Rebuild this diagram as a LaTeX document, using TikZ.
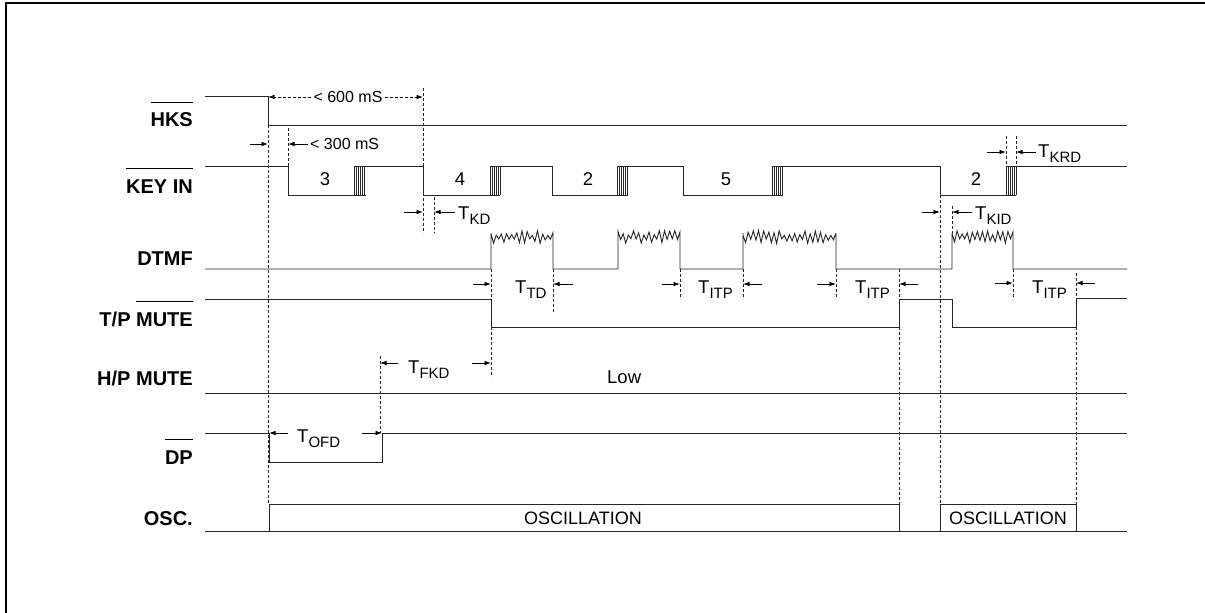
\documentclass[tikz,border=0pt]{standalone}
\usepackage{fontspec}
\setmainfont{Liberation Sans}
\usetikzlibrary{arrows.meta}

\newcommand{\olin}[1]{\setbox0=\hbox{#1}\rlap{\smash{\raisebox{\dimexpr\ht0+10pt\relax}{\rule{\wd0}{0.9pt}}}}\box0}
\newcommand{\tm}[1]{T\raisebox{-5pt}{\fontsize{15}{15}\selectfont #1}}
\newcommand{\keyhatch}[1]{\foreach \i in {0,2,...,10} \draw[sig, line width=0.5pt] (#1+\i,166) -- (#1+\i,195);}
\newcommand{\burst}[3]{-- plot[domain=0:#3, samples=#3+1] ({#1+\x*(#2-#1)/#3},{237+(mod(\x,2)*2-1)*(1.5+5*rnd)})}

\tikzset{
	sig/.style={draw=black!85, line width=0.9pt},
	guide/.style={draw=black!85, line width=0.6pt, dash pattern=on 3pt off 2pt},
	dim/.style={draw=black, line width=0.8pt, -{Latex[length=6.5pt,width=4.5pt]}},
	dimdash/.style={dim, dash pattern=on 3pt off 2pt},
	lab/.style={font=\fontsize{20}{24}\selectfont\bfseries, anchor=base east, inner sep=0pt},
	num/.style={font=\fontsize{18.5}{20}\selectfont, anchor=base, inner sep=0pt},
	note/.style={font=\fontsize{16}{18}\selectfont, inner sep=2pt},
	tlab/.style={font=\fontsize{18.5}{20}\selectfont, anchor=base west, inner sep=0pt},
	osc/.style={font=\fontsize{18}{20}\selectfont, anchor=base, inner sep=0pt}
}

\begin{document}
\begin{tikzpicture}[x=1pt, y=-1pt]
	\useasboundingbox (0,0) rectangle (1205,613);
	\pgfmathsetseed{17}
	\draw[line width=2pt] (6,613) -- (6,3) -- (1205,3);

	\node[lab] (hks) at (193,126.5) {\olin{HKS}};
	\node[lab] (keyin) at (193,193) {\olin{KEY IN}};
	\node[lab] (dtmf) at (193,265) {DTMF};
	\node[lab] (tpmute) at (193,326) {T/P \olin{MUTE}};
	\node[lab] (hpmute) at (193,385) {H/P MUTE};
	\node[lab] (dp) at (193,464) {\olin{DP}};
	\node[lab] (osc) at (193,525) {OSC.};

	\draw[sig] (205,96) -- (268,96) -- (268,125) -- (1127,125);

	\draw[sig] (205,166) -- (288,166) -- (288,195) -- (366,195);
	\draw[sig] (354,195) -- (354,166) -- (423,166) -- (423,195) -- (500,195);
	\draw[sig] (490,195) -- (490,166) -- (552,166) -- (552,195) -- (628,195);
	\draw[sig] (617,195) -- (617,166) -- (683,166) -- (683,195) -- (783,195);
	\draw[sig] (772,195) -- (772,166) -- (940,166) -- (940,195) -- (1016,195);
	\draw[sig] (1006,195) -- (1006,166) -- (1127,166);
	\keyhatch{354} \keyhatch{490} \keyhatch{617} \keyhatch{772} \keyhatch{1006}
	\node[num] (k3) at (325,185) {3};
	\node[num] (k4) at (460,185) {4};
	\node[num] (k2) at (588,185) {2};
	\node[num] (k5) at (726,185) {5};
	\node[num] (k2b) at (976,185) {2};

	\draw[sig] (205,269) -- (491,269) -- (491,233)
		\burst{491}{553}{24} -- (553,233) -- (553,269)
		-- (618,269) -- (618,233)
		\burst{618}{680}{24} -- (680,233) -- (680,269)
		-- (743,269) -- (743,233)
		\burst{743}{836}{36} -- (836,233) -- (836,269)
		-- (952,269) -- (952,233)
		\burst{952}{1013}{24} -- (1013,233) -- (1013,269)
		-- (1127,269);

	\draw[sig] (205,299) -- (491,299) -- (491,327) -- (899,327) -- (899,299) -- (952,299) -- (952,327) -- (1076,327) -- (1076,298) -- (1127,298);
	\draw[sig] (205,393) -- (1127,393);
	\node[tlab] (low) at (607,383) {Low};
	\draw[sig] (205,433) -- (269,433) -- (269,462) -- (382,462) -- (382,433) -- (1127,433);

	\draw[sig] (205,531) -- (1127,531);
	\draw[sig] (269,531) -- (269,504) -- (899,504) -- (899,531);
	\draw[sig] (940,531) -- (940,504) -- (1076,504) -- (1076,531);
	\node[osc] (osc1) at (583,524) {OSCILLATION};
	\node[osc] (osc2) at (1008,524) {OSCILLATION};

	\draw[guide] (268,125) -- (268,504);
	\draw[guide] (423,88) -- (423,233);
	\draw[guide] (434,197) -- (434,233);
	\draw[guide] (288,128) -- (288,166);
	\draw[guide] (491,269) -- (491,299);
	\draw[guide] (491,327) -- (491,377);
	\draw[guide] (553,269) -- (553,313);
	\draw[guide] (680,269) -- (680,299);
	\draw[guide] (743,269) -- (743,299);
	\draw[guide] (836,269) -- (836,299);
	\draw[guide] (899,269) -- (899,299);
	\draw[guide] (899,327) -- (899,504);
	\draw[guide] (940,195) -- (940,504);
	\draw[guide] (952,206) -- (952,236);
	\draw[guide] (1013,269) -- (1013,299);
	\draw[guide] (1076,273) -- (1076,298);
	\draw[guide] (1076,327) -- (1076,504);
	\draw[guide] (1006,136) -- (1006,166);
	\draw[guide] (1016,136) -- (1016,166);
	\draw[guide] (380,356) -- (380,433);

	\node[note] (t600) at (348,97) {< 600 mS};
	\draw[dimdash] (t600.west) -- (268,97);
	\draw[dimdash] (t600.east) -- (423,97);
	\node[note, anchor=west] (t300) at (308,144) {< 300 mS};
	\draw[dim] (t300.west) -- (288,144);
	\draw[dim] (250,144) -- (268,144);

	\draw[dim] (404,212) -- (423,212);
	\draw[dim] (455,212) -- (434,212);
	\node[tlab] (tkd) at (458,219) {\tm{KD}};
	\draw[dim] (922,212) -- (940,212);
	\draw[dim] (972,212) -- (952,212);
	\node[tlab] (tkid) at (975,219) {\tm{KID}};
	\draw[dim] (987,152) -- (1006,152);
	\draw[dim] (1036,152) -- (1016,152);
	\node[tlab] (tkrd) at (1038,157) {\tm{KRD}};

	\draw[dim] (473,284) -- (491,284);
	\draw[dim] (573,284) -- (553,284);
	\node[tlab] (ttd) at (515,293) {\tm{TD}};
	\draw[dim] (662,284) -- (680,284);
	\draw[dim] (762,284) -- (743,284);
	\node[tlab] (titpa) at (698,293) {\tm{ITP}};
	\draw[dim] (817,284) -- (836,284);
	\draw[dim] (918,284) -- (899,284);
	\node[tlab] (titpb) at (855,293) {\tm{ITP}};
	\draw[dim] (995,283) -- (1013,283);
	\draw[dim] (1095,283) -- (1076,283);
	\node[tlab] (titpc) at (1032,293) {\tm{ITP}};

	\draw[dim] (398,363) -- (380,363);
	\draw[dim] (472,363) -- (491,363);
	\node[tlab] (tfkd) at (408,373) {\tm{FKD}};
	\draw[dim] (288,433) -- (269,433);
	\draw[dim] (362,433) -- (382,433);
	\node[tlab] (tofd) at (297,442) {\tm{OFD}};
\end{tikzpicture}
\end{document}
